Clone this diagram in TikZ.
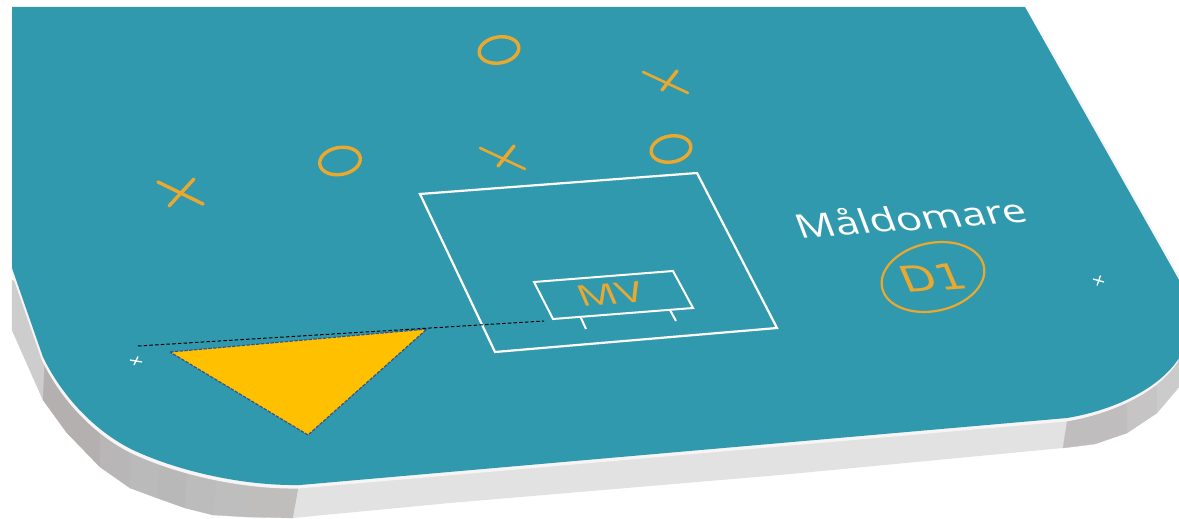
\documentclass[tikz,border=0pt]{standalone}
\usepackage{fontspec}
\setmainfont{Open Sans}
\newfontfamily\dejavu{DejaVu Sans}
\definecolor{plate}{HTML}{3199AD}
\definecolor{mark}{HTML}{EAA92E}
\definecolor{tri}{HTML}{FFC000}
\definecolor{triline}{HTML}{2F5597}
\definecolor{sidelight}{HTML}{E2E2E2}
\definecolor{strip}{HTML}{F6F4F4}
\definecolor{ga}{HTML}{CDCDCD}
\definecolor{gb}{HTML}{B4B0B0}
\definecolor{gc}{HTML}{B8B6B6}
\definecolor{gd}{HTML}{BBBABA}
\definecolor{ge}{HTML}{B9B8B8}
\definecolor{gf}{HTML}{BDBCBC}
\definecolor{gg}{HTML}{BFBEBE}
\definecolor{gh}{HTML}{C0BDBD}
\definecolor{gi}{HTML}{BFBDBD}
\definecolor{gj}{HTML}{C6C4C4}
\definecolor{gk}{HTML}{CBCBCB}
\tikzset{
  bandpiece/.style={fill=#1,draw=#1,line width=0.3pt},
  markline/.style={draw=mark,line width=3.4pt,line cap=round},
  markthin/.style={draw=mark,line width=2.6pt,line cap=round},
  ring/.style={draw=mark,line width=3.4pt},
  wline/.style={draw=white,line width=2.2pt,line join=miter},
  wthin/.style={draw=white,line width=2pt,line join=miter},
  tinycross/.style={draw=white,line width=1.3pt}
}
\def\platepath{(12,7) -- (1025,7) -- (1179,280) -- (1179,358)
  .. controls (1160,388) and (1115,410) .. (1067,418)
  -- (300,485)
  .. controls (245,486) and (180,472) .. (133,450)
  .. controls (100,434) and (65,402) .. (43,357)
  -- (12,268) -- cycle}
\begin{document}
\begin{tikzpicture}[x=1pt,y=-1pt]
\useasboundingbox (0,0) rectangle (1179,519);
% side faces, left corner
\path[bandpiece=ga] (12,280) -- (12,330) -- (43,400) -- (50,372) -- (30,290) -- cycle;
\path[bandpiece=gb] (45,360) -- (43,400) -- (67,433) -- (100,467) -- (110,437) -- cycle;
\path[bandpiece=gc] (100,430) -- (100,467) -- (130,488) -- (135,450) -- cycle;
\path[bandpiece=gd] (130,445) -- (130,488) -- (157,498) -- (162,460) -- cycle;
\path[bandpiece=ge] (160,460) -- (157,498) -- (185,508) -- (190,470) -- cycle;
\path[bandpiece=gf] (187,470) -- (185,508) -- (213,515) -- (219,475) -- cycle;
\path[bandpiece=gg] (217,475) -- (213,515) -- (247,517) -- (250,480) -- cycle;
\path[bandpiece=gh] (248,480) -- (247,517) -- (293,518) -- (300,480) -- cycle;
% side face, front
\path[fill=sidelight] (300,480) -- (293,518) -- (450,503) -- (780,475) -- (1063,448) -- (1070,410) -- cycle;
% side faces, right corner
\path[bandpiece=gi] (1069,410) -- (1063,448) -- (1095,444) -- (1127,433) -- (1127,400) -- cycle;
\path[bandpiece=gj] (1127,400) -- (1127,433) -- (1157,413) -- (1157,385) -- cycle;
\path[bandpiece=gk] (1157,380) -- (1157,413) -- (1179,387) -- (1179,345) -- cycle;
% light rim and plate
\path[fill=strip,xshift=-1pt,yshift=-3.5pt] \platepath;
\path[fill=strip,xshift=2.5pt,yshift=0pt] (1025,7) -- (1179,280) -- (1170,280) -- cycle;
\path[fill=plate] \platepath;
% x and o marks
\draw[markline] (158,182) -- (203,204);
\draw[markline] (194,179) -- (169,206);
\draw[ring] (340,161) ellipse[x radius=20.5,y radius=13.5,rotate=10];
\draw[ring] (499,50) ellipse[x radius=20,y radius=13,rotate=10];
\draw[ring] (671,149) ellipse[x radius=20,y radius=13,rotate=10];
\draw[markthin] (480,148) -- (525,169);
\draw[markline] (514,146) -- (498,166);
\draw[markthin] (643,72) -- (688,93);
\draw[markline] (677,71) -- (662,90);
% boxes
\draw[wline] (420,194) -- (697,173) -- (777,328) -- (495,352) -- cycle;
\draw[wthin] (534,282) -- (673,271) -- (693,308) -- (553,319) -- cycle;
\coordinate (tickA) at (581,318);
\coordinate (tickB) at (670,310);
\draw[wthin] (tickA) -- (586,329);
\draw[wthin] (tickB) -- (676,321);
\node[text=mark,font=\fontsize{29}{29}\selectfont,inner sep=0pt,rotate=4,xslant=-0.35,xscale=1.5] (mv) at (610,294) {MV};
% triangle
\coordinate (triA) at (170,352);
\coordinate (triB) at (427,329);
\coordinate (triC) at (308,435);
\path[fill=tri] (triA) -- (triB) -- (triC) -- cycle;
\draw[triline,line width=1.2pt,dash pattern=on 3.5pt off 1.3pt] (triA) -- (triB) -- (triC) -- cycle;
\coordinate (dashL) at (138,346);
\coordinate (dashR) at (544,321);
\draw[black,line width=1pt,dash pattern=on 3.5pt off 2.2pt] (dashL) -- (dashR);
% small crosses
\draw[tinycross] (130,360) -- (142,362) (138,356.5) -- (134,365);
\draw[tinycross] (1093,279) -- (1104,282) (1100.5,275.5) -- (1097,285.5);
% labels
\node[text=white,font=\fontsize{33}{33}\selectfont,inner sep=0pt,rotate=4,xslant=-0.3,xscale=1.3] (lbl) at (910,217) {Måldomare};
\draw[draw=mark,line width=2.2pt] (933,277) ellipse[x radius=52,y radius=34,rotate=12];
\node[text=mark,font=\dejavu\fontsize{36}{36}\selectfont,inner sep=0pt,rotate=4,xslant=-0.35,xscale=1.25] (d1) at (933,278) {D1};
\end{tikzpicture}
\end{document}
